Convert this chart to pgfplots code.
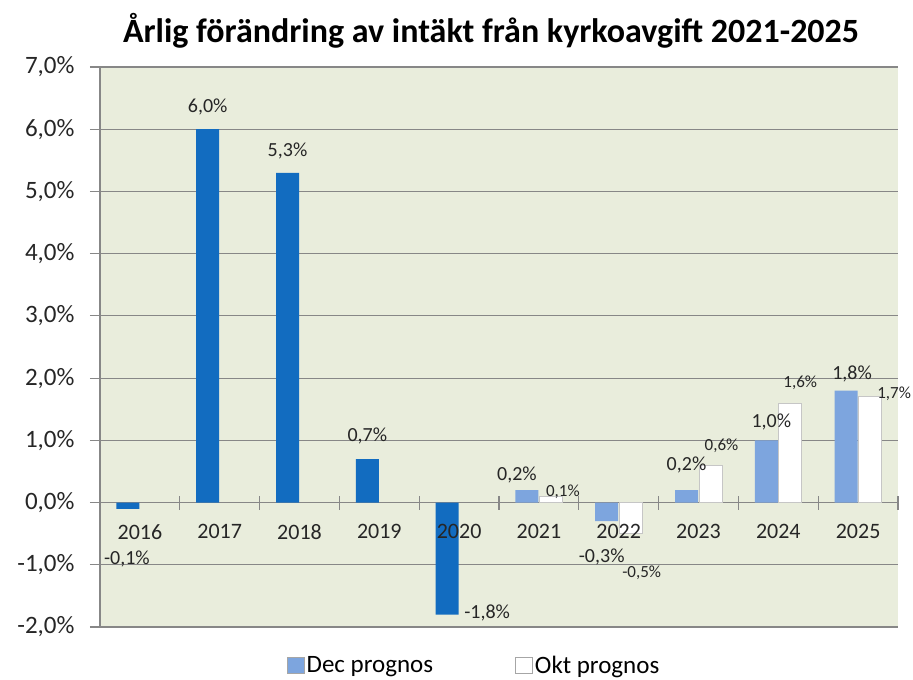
\documentclass[border=0pt]{standalone}
\usepackage{pgfplots}
\pgfplotsset{compat=1.18}
\usepackage{pgfplotstable}
\usepackage{fontspec}
\setmainfont{Carlito}
\definecolor{bg}{RGB}{233,237,220}
\definecolor{gridc}{RGB}{135,135,135}
\definecolor{dblue}{RGB}{18,108,192}
\definecolor{lblue}{RGB}{125,165,222}

\pgfplotstableread{
x y dx dy
0 -0.1 -1 -50
1 6.0 0 22
2 5.3 0 22
3 0.7 0 23
4 -1.8 40 2
}\darktab
\pgfplotstableread{
x y dx dy
5 0.2 -10 15
6 -0.3 -5 -36
7 0.2 0 25
8 1.0 5 18
9 1.8 6 17
}\dectab
\pgfplotstableread{
x y dx dy
5 0.1 12 5
6 -0.5 11 -39
7 0.6 11 19
8 1.6 10 20
9 1.7 24 3
}\okttab

\begin{document}
\begin{tikzpicture}
\begin{axis}[
  width=798pt, height=560pt, scale only axis,
  xmin=-0.5, xmax=9.5, ymin=-2, ymax=7,
  axis background/.style={fill=bg},
  axis y line=left, axis x line=middle,
  axis line style={-, draw=gridc, line width=1.1pt},
  ytick={-2,-1,...,7},
  ymajorgrids, grid style={draw=gridc, line width=1.1pt},
  y tick style={draw=gridc, line width=1.1pt},
  tick align=outside, major tick length=10pt,
  yticklabel={\pgfmathprintnumber[fixed,fixed zerofill,precision=1,use comma,assume math mode=true]{\tick}\%},
  yticklabel style={font=\fontsize{25}{28}\selectfont, color=black!85, xshift=-12pt},
  xtick=\empty,
  extra x ticks={0.5,1.5,...,9.5},
  extra x tick labels={},
  extra x tick style={tick align=center, major tick length=14pt, x tick style={draw=gridc, line width=1.1pt}, grid=none},
  ybar, bar width=23pt,
  title={Årlig förändring av intäkt från kyrkoavgift 2021-2025},
  title style={at={(rel axis cs:0.49,1)}, anchor=base, yshift=19pt, font=\fontsize{34}{40}\bfseries},
  legend style={at={(rel axis cs:0.469,-0.068)}, anchor=center, draw=none, fill=none,
    legend columns=2, font=\fontsize{25}{28}\selectfont,
    /tikz/every even column/.append style={column sep=80pt}},
  legend image code/.code={\draw[#1, draw=gray!70] (0pt,-8pt) rectangle (17pt,8pt);},
]
\addplot[bar shift=-12pt, draw=none, fill=dblue,
  visualization depends on={\thisrow{dx} \as \ndx},
  visualization depends on={\thisrow{dy} \as \ndy},
  nodes near coords={\pgfmathprintnumber[fixed,fixed zerofill,precision=1,use comma,assume math mode=true]{\pgfplotspointmeta}\%},
  every node near coord/.append style={anchor=center, xshift=\ndx pt, yshift=\ndy pt, font=\fontsize{20}{22}\selectfont, color=black!85},
  forget plot] table[x=x,y=y] {\darktab};
\addplot[bar shift=-12pt, draw=none, fill=lblue,
  visualization depends on={\thisrow{dx} \as \ndx},
  visualization depends on={\thisrow{dy} \as \ndy},
  nodes near coords={\pgfmathprintnumber[fixed,fixed zerofill,precision=1,use comma,assume math mode=true]{\pgfplotspointmeta}\%},
  every node near coord/.append style={anchor=center, xshift=\ndx pt, yshift=\ndy pt, font=\fontsize{20}{22}\selectfont, color=black!85}
  ] table[x=x,y=y] {\dectab};
\addlegendentry{Dec prognos}
\addplot[bar shift=12pt, draw=gray!45, line width=0.8pt, fill=white,
  visualization depends on={\thisrow{dx} \as \ndx},
  visualization depends on={\thisrow{dy} \as \ndy},
  nodes near coords={\pgfmathprintnumber[fixed,fixed zerofill,precision=1,use comma,assume math mode=true]{\pgfplotspointmeta}\%},
  every node near coord/.append style={anchor=center, xshift=\ndx pt, yshift=\ndy pt, font=\fontsize{17}{19}\selectfont, color=black!85}
  ] table[x=x,y=y] {\okttab};
\addlegendentry{Okt prognos}
\end{axis}
\begin{axis}[
  width=798pt, height=560pt, scale only axis,
  xmin=-0.5, xmax=9.5, ymin=-2, ymax=7,
  axis x line=middle, axis y line=none,
  axis line style={draw=none},
  xtick={0,...,9},
  xticklabels={2016,2017,2018,2019,2020,2021,2022,2023,2024,2025},
  x tick style={draw=none},
  xticklabel style={font=\fontsize{22}{26}\selectfont, color=black!85, yshift=-16pt},
]
\end{axis}
\pgfresetboundingbox
\path (-100pt,-53pt) rectangle (813pt,627pt);
\end{tikzpicture}
\end{document}
